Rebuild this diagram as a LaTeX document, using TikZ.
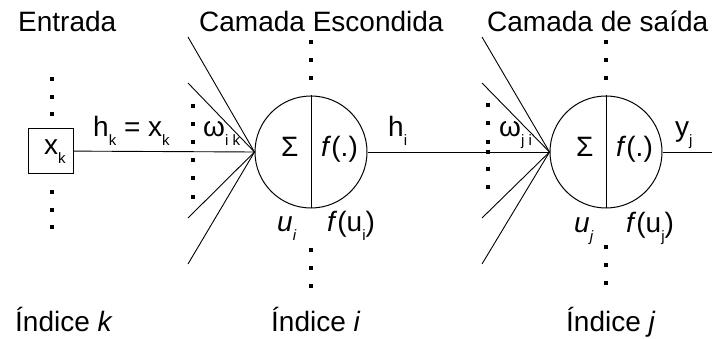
\documentclass[tikz,border=0pt]{standalone}
\usepackage{fontspec}
\setmainfont{Liberation Sans}
\usetikzlibrary{positioning}

\newcommand{\lowidx}[1]{\raisebox{-9pt}{\fontsize{15}{15}\selectfont #1}}

\begin{document}
\begin{tikzpicture}[x=1pt, y=-1pt,
	font=\fontsize{28}{33}\selectfont,
	wire/.style={line width=0.9pt},
	neuron/.style={draw, circle, line width=1pt, minimum size=112pt, inner sep=0pt},
	inbox/.style={draw, line width=1pt, minimum size=45pt, inner sep=0pt},
	lbl/.style={inner sep=0pt, anchor=base west}
]
\useasboundingbox (0,0) rectangle (712,339);

% layer titles
\node[lbl] (tin) at (18,32) {Entrada};
\node[lbl] (thid) at (199,32) {Camada Escondida};
\node[lbl] (tout) at (487,32) {Camada de saída};

% units
\node[inbox] (xk) at (50.5,151) {};
\node[lbl] (xklbl) at (44,155) {x\lowidx{k}};
\node[neuron] (hid) at (311,152) {};
\node[neuron] (out) at (606,152) {};
\draw[wire] (hid.north) -- (hid.south);
\draw[wire] (out.north) -- (out.south);

% free ends of the incoming weights
\coordinate (ha) at (188,37);
\coordinate (hb) at (188,83);
\coordinate (hc) at (188,218);
\coordinate (hd) at (188,264);
\coordinate (oa) at (482,37);
\coordinate (ob) at (482,83);
\coordinate (oc) at (482,218);
\coordinate (od) at (482,264);
\coordinate (yend) at (712,152);

\draw[wire] (xk) -- (hid.west);
\draw[wire] (hid.east) -- (out.west);
\draw[wire] (out.east) -- (yend);
\foreach \p in {ha,hb,hc,hd} \draw[wire] (\p) -- (hid.west);
\foreach \p in {oa,ob,oc,od} \draw[wire] (\p) -- (out.west);

% dots
\foreach \y in {79,97,114,192,210,227} \fill (52,\y) ++(-1.6,-1.6) rectangle ++(3.2,3.2);
\foreach \y in {106,124,142,160,178,197} \fill (193,\y) ++(-1.6,-1.6) rectangle ++(3.2,3.2);
\foreach \y in {42,60,78,250,268,286} \fill (311,\y) ++(-1.6,-1.6) rectangle ++(3.2,3.2);
\foreach \y in {105,123,142,152,169,187} \fill (488,\y) ++(-1.6,-1.6) rectangle ++(3.2,3.2);
\foreach \y in {42,60,78,247,265,283} \fill (606,\y) ++(-1.6,-1.6) rectangle ++(3.2,3.2);

% signals and weights
\node[lbl] (hk) at (93,137) {h\lowidx{k} = x\lowidx{k}};
\node[lbl] (wik) at (203,137) {ω\lowidx{i k}};
\node[lbl] (hi) at (388,137) {h\lowidx{i}};
\node[lbl] (wji) at (499,137) {ω\lowidx{j i}};
\node[lbl] (yj) at (675,137) {y\lowidx{j}};

% inside the neurons
\node[lbl] (sumh) at (281,157) {Σ};
\node[lbl] (acth) at (321,157) {\textit{f}(.)};
\node[lbl] (sumo) at (576,157) {Σ};
\node[lbl] (acto) at (616,157) {\textit{f}(.)};
\node[lbl] (ui) at (277,232) {\textit{u}\lowidx{\textit{i}}};
\node[lbl] (fui) at (327,232) {\textit{f}(u\lowidx{i})};
\node[lbl] (uj) at (574,233) {\textit{u}\lowidx{\textit{j}}};
\node[lbl] (fuj) at (626,233) {\textit{f}(u\lowidx{j})};

% indices
\node[lbl] (ik) at (15,331) {Índice \textit{k}};
\node[lbl] (ii) at (271,331) {Índice \textit{i}};
\node[lbl] (ij) at (566,331) {Índice \textit{j}};
\end{tikzpicture}
\end{document}
